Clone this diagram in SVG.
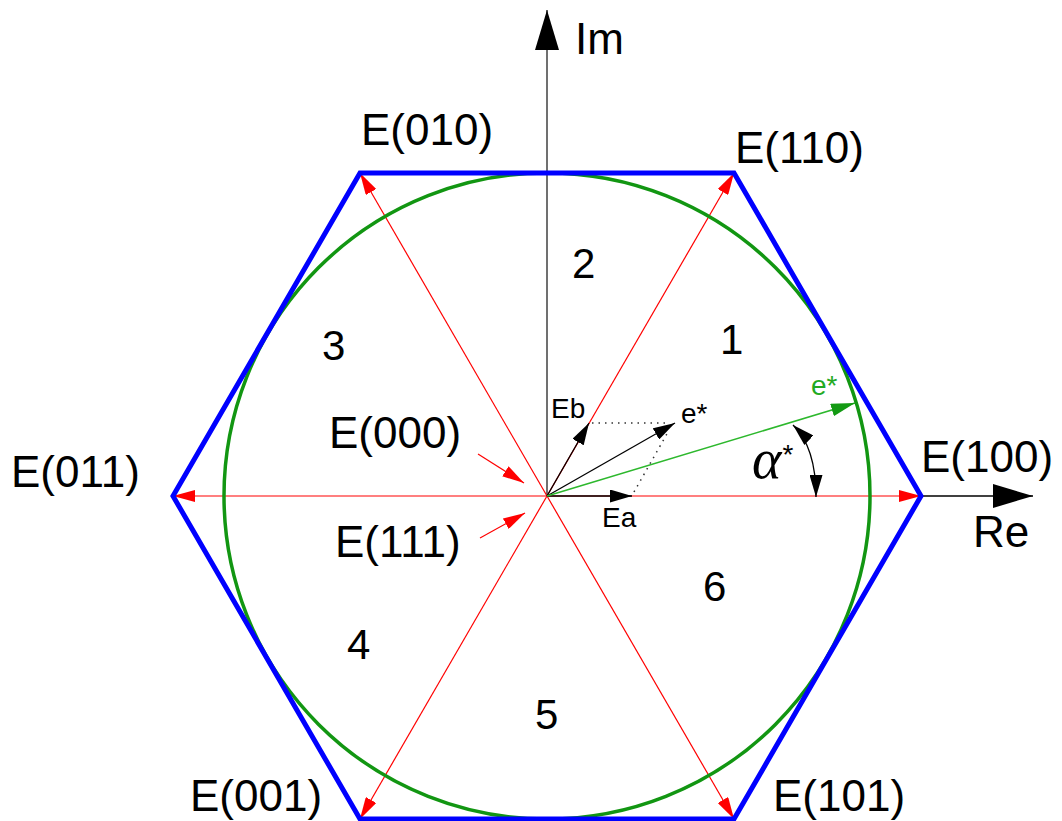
<svg xmlns="http://www.w3.org/2000/svg" width="1062" height="821" viewBox="0 0 1062 821">
<style>
.lbl{font-family:"Liberation Sans",Arial,sans-serif;font-size:44px;fill:#000}
.num{font-family:"Liberation Sans",Arial,sans-serif;font-size:42px;fill:#000}
.sm{font-family:"Liberation Sans",Arial,sans-serif;font-size:28px;fill:#000}
.red{stroke:#ff0000;stroke-width:1.2;fill:none}
.blk{stroke:#000;stroke-width:1.3;fill:none}
.dot{stroke:#333;stroke-width:1.5;fill:none;stroke-dasharray:1.5 5}
</style>
<defs>
<marker id="aRed" viewBox="0 0 22 12" refX="22" refY="6" markerWidth="22" markerHeight="12" markerUnits="userSpaceOnUse" orient="auto"><path d="M0,0 L22,6 L0,12 Z" fill="#ff0000"/></marker>
<marker id="aBlk" viewBox="0 0 22 13" refX="22" refY="6.5" markerWidth="22" markerHeight="13" markerUnits="userSpaceOnUse" orient="auto-start-reverse"><path d="M0,0 L22,6.5 L0,13 Z" fill="#000"/></marker>
<marker id="aGrn" viewBox="0 0 24 13" refX="24" refY="6.5" markerWidth="24" markerHeight="13" markerUnits="userSpaceOnUse" orient="auto"><path d="M0,0 L24,6.5 L0,13 Z" fill="#139a13"/></marker>
<marker id="aAxis" viewBox="0 0 40 24" refX="40" refY="12" markerWidth="40" markerHeight="24" markerUnits="userSpaceOnUse" orient="auto"><path d="M0,0 L40,12 L0,24 Z" fill="#000"/></marker>
</defs>
<rect width="1062" height="821" fill="#fff"/>
<g id="axes">
<line x1="547" y1="496" x2="547" y2="10" stroke="#707070" stroke-width="2" marker-end="url(#aAxis)"/>
<line x1="921" y1="496" x2="1033" y2="496" stroke="#000" stroke-width="1.5" marker-end="url(#aAxis)"/>
</g>
<g id="connectors">
<line class="red" x1="547" y1="496" x2="921" y2="496" marker-end="url(#aRed)"/>
<line class="red" x1="547" y1="496" x2="734" y2="173" marker-end="url(#aRed)"/>
<line class="red" x1="547" y1="496" x2="360" y2="173" marker-end="url(#aRed)"/>
<line class="red" x1="547" y1="496" x2="173" y2="496" marker-end="url(#aRed)"/>
<line class="red" x1="547" y1="496" x2="360" y2="819" marker-end="url(#aRed)"/>
<line class="red" x1="547" y1="496" x2="734" y2="819" marker-end="url(#aRed)"/>
<line class="red" x1="478" y1="454" x2="524" y2="483" marker-end="url(#aRed)"/>
<line class="red" x1="480" y1="538" x2="525" y2="513" marker-end="url(#aRed)"/>
<line class="dot" x1="592" y1="423" x2="668" y2="423"/>
<line class="dot" x1="634" y1="492" x2="668" y2="432"/>
<line class="blk" x1="547" y1="496" x2="589" y2="423" marker-end="url(#aBlk)"/>
<line class="blk" x1="547" y1="496" x2="632" y2="496" marker-end="url(#aBlk)"/>
<line class="blk" x1="547" y1="496" x2="675" y2="423" marker-end="url(#aBlk)"/>
<line x1="547" y1="496" x2="855" y2="403" stroke="#2db82d" stroke-width="1.6" marker-end="url(#aGrn)"/>
<path class="blk" d="M793,425 Q816,447 816,497" marker-start="url(#aBlk)" marker-end="url(#aBlk)"/>
</g>
<g id="circle"><circle cx="547" cy="496" r="323" fill="none" stroke="#129612" stroke-width="3.5"/></g>
<g id="hexagon"><polygon points="921,496 734,173 360,173 173,496 360,819 734,819" fill="none" stroke="#0000ff" stroke-width="5" stroke-linejoin="miter"/></g>
<g id="label-Im"><text class="lbl" x="575" y="54">Im</text></g>
<g id="label-Re"><text class="lbl" x="973" y="547">Re</text></g>
<g id="label-E010"><text class="lbl" x="361" y="145">E(010)</text></g>
<g id="label-E110"><text class="lbl" x="735" y="163">E(110)</text></g>
<g id="label-E011"><text class="lbl" x="11" y="487">E(011)</text></g>
<g id="label-E100"><text class="lbl" x="921" y="472">E(100)</text></g>
<g id="label-E001"><text class="lbl" x="190" y="811">E(001)</text></g>
<g id="label-E101"><text class="lbl" x="773" y="811">E(101)</text></g>
<g id="label-E000"><text class="lbl" x="329" y="448">E(000)</text></g>
<g id="label-E111"><text class="lbl" x="335" y="557">E(111)</text></g>
<g id="sectors">
<text class="num" x="720" y="354">1</text>
<text class="num" x="572" y="278">2</text>
<text class="num" x="322" y="360">3</text>
<text class="num" x="347" y="659">4</text>
<text class="num" x="535" y="729">5</text>
<text class="num" x="703" y="601">6</text>
</g>
<g id="vector-labels">
<text class="sm" x="551" y="418">Eb</text>
<text class="sm" x="602" y="527">Ea</text>
<text class="sm" x="681" y="423">e*</text>
<text class="sm" x="811" y="395" style="fill:#22aa22">e*</text>
<text x="752" y="478" style="font-family:'Liberation Serif','Times New Roman',serif;font-style:italic;font-size:56px;fill:#000">α<tspan style="font-family:'Liberation Sans',Arial,sans-serif;font-style:normal;font-size:28px" dx="1" dy="-14">*</tspan></text>
</g>
</svg>
